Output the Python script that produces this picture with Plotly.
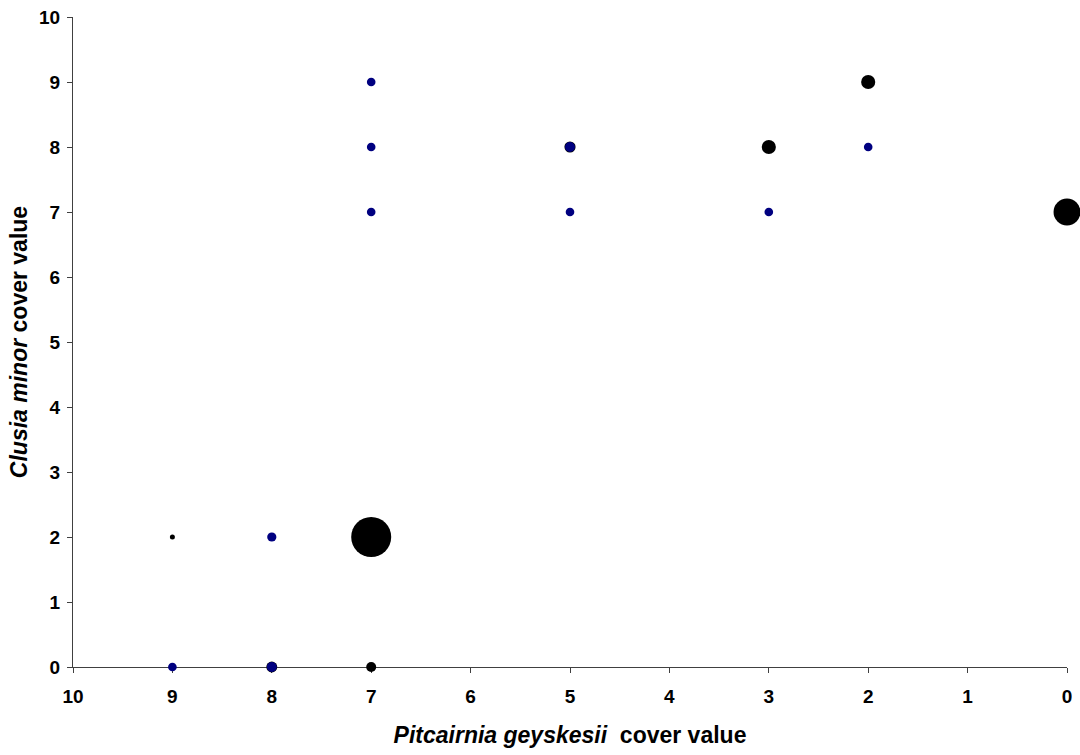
import plotly.graph_objects as go

# Black series (x = Pitcairnia cover, y = Clusia cover, bubble value)
black_x = [9, 7, 7, 5, 3, 2, 0, 8]
black_y = [2, 2, 0, 8, 8, 9, 7, 0]
black_v = [1, 64, 4, 5, 8, 8, 29, 4.8]

# Blue series
blue_x = [9, 8, 8, 7, 7, 7, 5, 5, 3, 2]
blue_y = [0, 0, 2, 9, 8, 7, 8, 7, 7, 8]
blue_v = [3, 4, 3.4, 3, 3, 3, 4, 3, 3, 3]

tick_vals = list(range(0, 11))
tick_text = [f"<b>{v}</b>" for v in tick_vals]

FONT = "Liberation Sans, Arial, sans-serif"

fig = go.Figure()
fig.add_trace(go.Scatter(
    x=black_x, y=black_y, mode="markers", cliponaxis=False,
    marker=dict(size=black_v, sizemode="area", sizeref=0.08, color="#000000",
                opacity=1, line=dict(width=0)),
    showlegend=False))
fig.add_trace(go.Scatter(
    x=blue_x, y=blue_y, mode="markers", cliponaxis=False,
    marker=dict(size=blue_v, sizemode="area", sizeref=0.08, color="#000080",
                opacity=1, line=dict(width=0)),
    showlegend=False))

axis_font = dict(family=FONT, size=19, color="#000000", weight="bold")
title_font = dict(family=FONT, size=23, color="#000000", weight="bold")
fig.update_layout(
    width=1080, height=755,
    margin=dict(l=73, r=13, t=17, b=88),
    paper_bgcolor="white", plot_bgcolor="white",
    font=dict(family=FONT, color="#000000"),
    xaxis=dict(
        range=[10, 0], tickvals=tick_vals, ticktext=tick_text,
        showgrid=False, zeroline=False, showline=True, linecolor="#404040", linewidth=1.3,
        ticks="outside", ticklen=5, tickcolor="#404040", tickwidth=1.3,
        tickfont=axis_font, layer="below traces", automargin=False,
        ticklabelstandoff=7,
        title=dict(text="<i>Pitcairnia geyskesii</i>  cover value",
                   font=title_font, standoff=20),
    ),
    yaxis=dict(
        range=[0, 10], tickvals=tick_vals, ticktext=tick_text,
        showgrid=False, zeroline=False, showline=True, linecolor="#404040", linewidth=1.3,
        ticks="outside", ticklen=5, tickcolor="#404040", tickwidth=1.3,
        tickfont=axis_font, layer="below traces", automargin=False,
        ticklabelstandoff=3,
        title=dict(text="<i>Clusia minor</i> cover value",
                   font=title_font, standoff=4),
    ),
)

fig.write_html("out.html", config={"displayModeBar": False},
               post_script="document.body.style.margin='0px';document.body.style.overflow='hidden';")
